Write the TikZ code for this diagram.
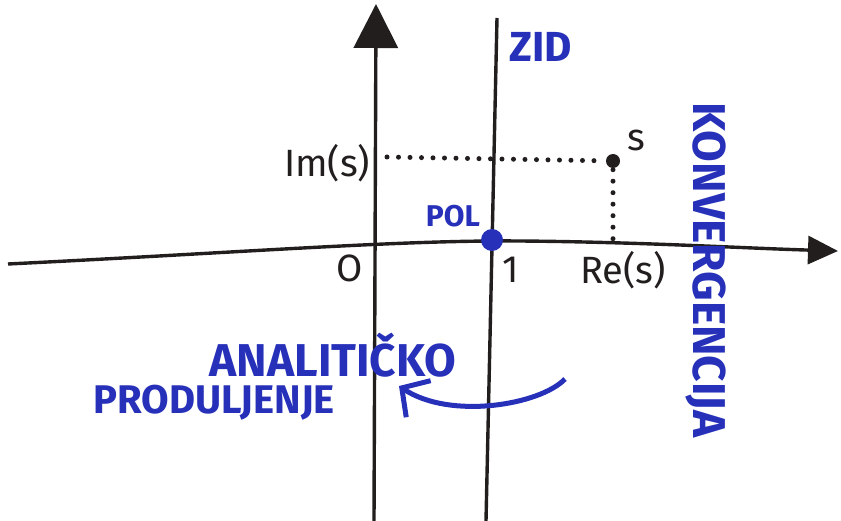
\documentclass[tikz,border=0pt]{standalone}
\usepackage{fontspec}
\setsansfont{Fira Sans}
\usepackage{tikz}
\usetikzlibrary{arrows.meta}
\definecolor{marker}{RGB}{38,48,185}
\definecolor{ink}{RGB}{35,30,30}

\begin{document}
\begin{tikzpicture}[
    x=1pt, y=-1pt,
    line width=3.4pt,
    every node/.style={font=\sffamily\fontsize{38}{40}\selectfont, text=ink, inner sep=0pt},
    bluetext/.style={text=marker, font=\sffamily\bfseries\fontsize{42}{44}\selectfont},
    dots/.style={ink, line width=5pt, dash pattern=on 0pt off 11.5pt, line cap=round}
  ]
  \useasboundingbox (0,0) rectangle (841,521);
  % axes
  \coordinate (W) at (8,264);
  \coordinate (M) at (520,241);
  \coordinate (E) at (838,251);
  \coordinate (S) at (374,521);
  \coordinate (N) at (376,4);
  \draw[ink, -{Triangle[length=44pt,width=44pt]}] (S) -- (N);
  \draw[ink, -{Triangle[length=30pt,width=28pt]}] (W) .. controls (250,252) and (400,240) .. (M)
    .. controls (640,242) and (740,248) .. (E);
  % zid
  \coordinate (ZT) at (497,18);
  \coordinate (ZB) at (486,521);
  \draw[ink] (ZT) -- (ZB);
  \node[bluetext, anchor=west] (zid) at (508,47) {ZID};
  % tocka s
  \node[circle, fill=ink, minimum size=14pt] (s) at (613,161) {};
  \node (slab) at (636,140) {s};
  \coordinate (ImAx) at (387,157);
  \coordinate (ReAx) at (613,243);
  \draw[dots] (ImAx) -- (s);
  \draw[dots] (s) -- (ReAx);
  \node[anchor=east] (Im) at (372,163) {Im(s)};
  \node (O) at (350,268) {O};
  \node (one) at (511,270) {1};
  \node (Re) at (623,270) {Re(s)};
  % pol
  \node[circle, fill=marker, minimum size=22pt] (pol) at (492,240) {};
  \node[bluetext, font=\sffamily\bfseries\fontsize{30}{32}\selectfont] (pollab) at (453,216) {POL};
  % konvergencija
  \node[bluetext, font=\sffamily\bfseries\fontsize{46}{48}\selectfont, rotate=-90] (konv) at (706,270) {KONVERGENCIJA};
  % analiticko produljenje
  \node[bluetext, font=\sffamily\bfseries\fontsize{46}{48}\selectfont] (anal) at (333,355) {ANALITIČKO};
  \node[bluetext, font=\sffamily\bfseries\fontsize{40}{42}\selectfont] (prod) at (214,403) {PRODULJENJE};
  \coordinate (arcA) at (565,379);
  \coordinate (arcB) at (399,386);
  \draw[marker, line width=5pt, -{Straight Barb[length=20pt,width=44pt]}]
    (arcA) .. controls (540,405) and (450,420) .. (arcB);
\end{tikzpicture}
\end{document}
